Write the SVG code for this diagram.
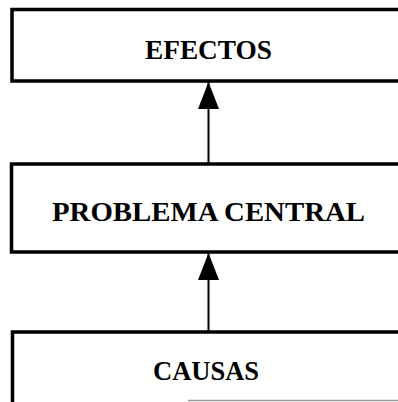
<svg xmlns="http://www.w3.org/2000/svg" width="398" height="402" viewBox="0 0 398 402">
  <style>
    .box { fill: #ffffff; stroke: #000000; stroke-width: 3.5; }
    .lbl { font-family: "Liberation Serif", "Times New Roman", serif; font-weight: bold; font-size: 28px; fill: #000000; text-anchor: middle; }
    .conn { stroke: #000000; stroke-width: 2; fill: none; marker-end: url(#arrow); }
  </style>
  <defs>
    <marker id="arrow" viewBox="0 0 27 21" refX="27" refY="10.5" markerWidth="27" markerHeight="21" orient="auto" markerUnits="userSpaceOnUse">
      <path d="M0,0 L27,10.5 L0,21 Z" fill="#000000"/>
    </marker>
  </defs>
  <rect x="0" y="0" width="398" height="402" fill="#ffffff"/>
  <g id="efectos">
    <rect class="box" x="12" y="9.5" width="400" height="71.5"/>
    <text class="lbl" x="208.5" y="59" textLength="127" lengthAdjust="spacingAndGlyphs">EFECTOS</text>
  </g>
  <g id="problema-central">
    <rect class="box" x="11.5" y="164" width="400" height="88"/>
    <text class="lbl" x="208.5" y="221" textLength="313" lengthAdjust="spacingAndGlyphs">PROBLEMA CENTRAL</text>
  </g>
  <g id="causas">
    <path d="M12.5,402 L12.5,332 L400,332" fill="none" stroke="#000000" stroke-width="3.5"/>
    <line x1="188" y1="400.5" x2="398" y2="400.5" stroke="#9a9a9a" stroke-width="1.5"/>
    <text class="lbl" x="206" y="380" textLength="106" lengthAdjust="spacingAndGlyphs">CAUSAS</text>
  </g>
  <g id="connectors">
    <line class="conn" x1="208.5" y1="163" x2="208.5" y2="82"/>
    <line class="conn" x1="208.5" y1="331" x2="208.5" y2="253"/>
  </g>
</svg>
